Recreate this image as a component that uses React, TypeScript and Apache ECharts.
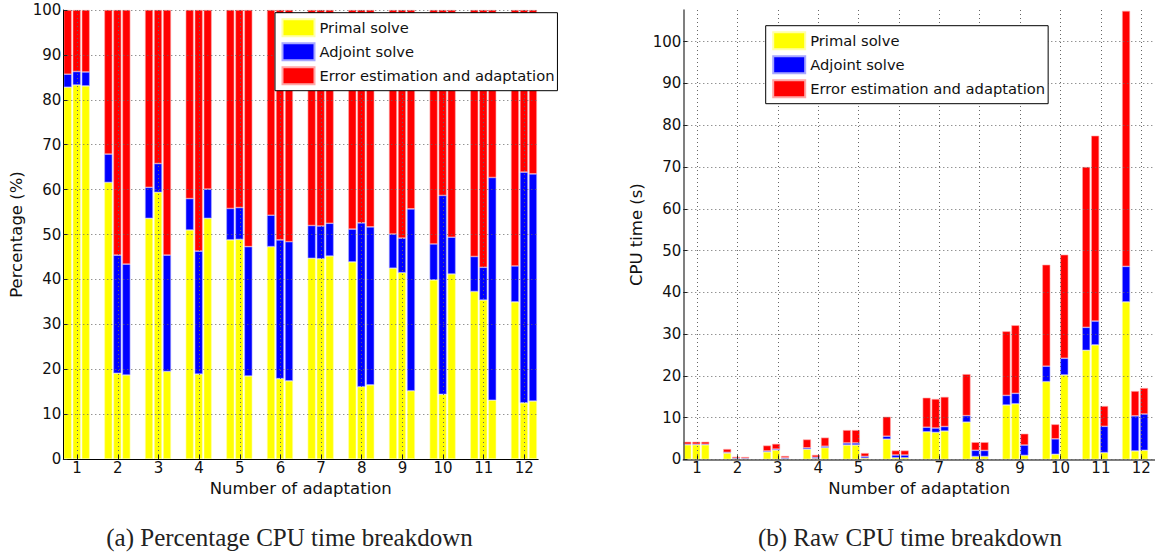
import React, { useEffect, useRef } from 'react';
import * as echarts from 'echarts';

// ---------- data ----------
const adaptations = ['1', '2', '3', '4', '5', '6', '7', '8', '9', '10', '11', '12'];
const xTickValues = [1, 2, 3, 4, 5, 6, 7, 8, 9, 10, 11, 12];
const yTicksPct = [0, 10, 20, 30, 40, 50, 60, 70, 80, 90, 100];
const yTicksSec = [0, 10, 20, 30, 40, 50, 60, 70, 80, 90, 100];
const legendNames = ['Primal solve', 'Adjoint solve', 'Error estimation and adaptation'];

// percentage breakdown, [adaptation][run 1..3]
const pctPrimal = [
  [82.8, 83.3, 83.1], [61.6, 19.1, 18.7], [53.6, 59.4, 19.5], [51.0, 18.9, 53.6],
  [48.8, 48.9, 18.5], [47.3, 17.9, 17.4], [44.7, 44.6, 45.2], [43.9, 16.1, 16.5],
  [42.5, 41.5, 15.2], [39.9, 14.4, 41.2], [37.3, 35.4, 13.1], [35.0, 12.5, 12.9],
];
const pctAdjoint = [
  [2.9, 3.0, 3.1], [6.3, 26.3, 24.7], [6.9, 6.4, 25.9], [7.0, 27.4, 6.5],
  [7.0, 7.1, 28.8], [7.0, 30.9, 31.0], [7.3, 7.3, 7.3], [7.3, 36.5, 35.2],
  [7.6, 7.7, 40.5], [8.0, 44.3, 8.2], [7.8, 7.3, 49.6], [8.0, 51.4, 50.6],
];
const pctError = [
  [14.3, 13.7, 13.8], [32.1, 54.6, 56.6], [39.5, 34.2, 54.6], [42.0, 53.7, 39.9],
  [44.2, 44.0, 52.7], [45.7, 51.2, 51.6], [48.0, 48.1, 47.5], [48.8, 47.4, 48.3],
  [49.9, 50.8, 44.3], [52.1, 41.3, 50.6], [54.9, 57.3, 37.3], [57.0, 36.1, 36.5],
];

// raw CPU time (s), [adaptation][run 1..3]
const secPrimal = [
  [3.48, 3.48, 3.48], [1.5, 0.11, 0.1], [1.77, 2.2, 0.16], [2.42, 0.2, 2.79],
  [3.42, 3.42, 0.28], [4.82, 0.38, 0.37], [6.6, 6.44, 6.76], [8.9, 0.66, 0.68],
  [13.0, 13.3, 0.93], [18.6, 1.2, 20.2], [26.1, 27.4, 1.6], [37.7, 2.0, 2.15],
];
const secAdjoint = [
  [0.12, 0.13, 0.13], [0.16, 0.16, 0.14], [0.23, 0.24, 0.2], [0.33, 0.29, 0.34],
  [0.49, 0.5, 0.43], [0.71, 0.65, 0.65], [1.08, 1.05, 1.09], [1.55, 1.5, 1.44],
  [2.3, 2.5, 2.48], [3.7, 3.7, 4.0], [5.5, 5.7, 6.3], [8.5, 8.4, 8.7],
];
const secError = [
  [0.6, 0.59, 0.59], [0.8, 0.33, 0.31], [1.3, 1.26, 0.44], [2.0, 0.56, 2.07],
  [3.09, 3.08, 0.79], [4.67, 1.07, 1.08], [7.07, 6.96, 7.1], [9.95, 1.94, 1.98],
  [15.35, 16.3, 2.72], [24.3, 3.48, 24.8], [38.4, 44.4, 4.86], [61.2, 5.95, 6.22],
];

// ---------- styling ----------
const fillColors = ['#ffff00', '#0000ff', '#ff0000'];
const edgeColors = ['#ffffa8', '#a8a8ff', '#ffa8a8'];
const FONT = '"DejaVu Sans", "Liberation Sans", Arial, sans-serif';
const SERIF = '"Liberation Serif", "DejaVu Serif", serif';

// bar grids (category bands centred on integer ticks) with hidden axes: indices 0,1
// visible axis grids (value axes 0.66..12.34): indices 2,3
function buildSeries(idx: number, parts: number[][][], prefix: string) {
  const out: any[] = [];
  for (let b = 0; b < 3; b++) {
    for (let s = 0; s < 3; s++) {
      out.push({
        type: 'bar',
        name: legendNames[s],
        xAxisIndex: idx,
        yAxisIndex: idx,
        stack: prefix + b,
        barWidth: 8,
        barGap: '12.5%',
        z: 2,
        itemStyle: { color: fillColors[s], borderColor: edgeColors[s], borderWidth: 0.6 },
        emphasis: { disabled: true },
        data: parts[s].map((row) => row[b]),
      });
    }
  }
  return out;
}

function hiddenCatX(idx: number) {
  return {
    type: 'category',
    gridIndex: idx,
    data: adaptations,
    show: false,
    axisLine: { show: false },
    axisTick: { show: false },
    axisLabel: { show: false },
    splitLine: { show: false },
  };
}

function hiddenValY(idx: number, max: number) {
  return {
    type: 'value',
    gridIndex: idx,
    min: 0,
    max,
    show: false,
    axisLine: { show: false },
    axisTick: { show: false },
    axisLabel: { show: false },
    splitLine: { show: false },
  };
}

function xAxisFor(idx: number, axisColor: string, axisWidth: number) {
  return {
    type: 'value',
    gridIndex: idx,
    min: 0.66,
    max: 12.34,
    splitNumber: 12,
    z: 3,
    name: 'Number of adaptation',
    nameLocation: 'middle',
    nameGap: 10,
    nameTextStyle: { fontFamily: FONT, fontSize: 16.5, color: '#111' },
    axisLine: { show: true, onZero: false, lineStyle: { color: axisColor, width: axisWidth } },
    axisTick: { show: true, inside: true, length: 4, customValues: xTickValues, lineStyle: { color: '#222' } },
    axisLabel: {
      customValues: xTickValues,
      margin: 1,
      fontFamily: FONT,
      fontSize: 15,
      color: '#111',
      formatter: (v: number) => String(Math.round(v)),
    },
    splitLine: { show: true, lineStyle: { color: '#666', type: [1, 3], width: 1 } },
  };
}

function yAxisFor(idx: number, name: string, max: number, ticks: number[], axisColor: string, axisWidth: number) {
  return {
    type: 'value',
    gridIndex: idx,
    min: 0,
    max,
    splitNumber: 11,
    z: 3,
    name,
    nameLocation: 'middle',
    nameGap: 38,
    nameTextStyle: { fontFamily: FONT, fontSize: 16.5, color: '#111' },
    axisLine: { show: true, lineStyle: { color: axisColor, width: axisWidth } },
    axisTick: { show: true, inside: true, length: 4, customValues: ticks, lineStyle: { color: '#222' } },
    axisLabel: {
      customValues: ticks,
      margin: 2,
      fontFamily: FONT,
      fontSize: 15,
      color: '#111',
    },
    splitLine: { show: true, lineStyle: { color: '#666', type: [1, 3], width: 1 } },
  };
}

function legendAt(left: number, top: number) {
  return {
    left,
    top,
    orient: 'vertical',
    icon: 'rect',
    itemWidth: 32,
    itemHeight: 17,
    itemGap: 5,
    padding: [5.5, 3, 5.5, 6.5],
    backgroundColor: '#ffffff',
    borderColor: '#000000',
    borderWidth: 1,
    borderRadius: 0,
    selectedMode: false,
    z: 6,
    data: legendNames,
    textStyle: { fontFamily: FONT, fontSize: 14.7, color: '#111', lineHeight: 17 },
  };
}

function caption(text: string, x: number) {
  return {
    type: 'text',
    x,
    y: 537,
    style: {
      text,
      fontFamily: SERIF,
      fontSize: 25,
      fill: '#222',
      align: 'center',
      verticalAlign: 'middle',
      textAlign: 'center',
      textVerticalAlign: 'middle',
    },
  };
}

export default function App() {
  const ref = useRef<HTMLDivElement>(null);

  useEffect(() => {
    if (!ref.current) return;
    const chart = echarts.init(ref.current, undefined, { renderer: 'svg' });
    chart.setOption({
      animation: false,
      backgroundColor: '#ffffff',
      grid: [
        { left: 56.37, top: 10, width: 487.9, height: 449, show: false },
        { left: 676.37, top: 10, width: 487.9, height: 449.3, show: false },
        { left: 63.3, top: 10, width: 474.9, height: 449, show: false },
        { left: 683.3, top: 10, width: 474.9, height: 449.3, show: false },
      ],
      xAxis: [hiddenCatX(0), hiddenCatX(1), xAxisFor(2, '#000', 1), xAxisFor(3, '#555', 1.5)],
      yAxis: [
        hiddenValY(0, 100),
        hiddenValY(1, 107.6),
        yAxisFor(2, 'Percentage (%)', 100, yTicksPct, '#000', 1),
        yAxisFor(3, 'CPU time (s)', 107.6, yTicksSec, '#555', 1.5),
      ],
      legend: [legendAt(275, 12.7), legendAt(765.7, 25.7)],
      series: [
        ...buildSeries(0, [pctPrimal, pctAdjoint, pctError], 'pct'),
        ...buildSeries(1, [secPrimal, secAdjoint, secError], 'sec'),
      ],
      graphic: [
        caption('(a) Percentage CPU time breakdown', 289.5),
        caption('(b) Raw CPU time breakdown', 910),
      ],
    });
    return () => chart.dispose();
  }, []);

  return (
    <div
      ref={ref}
      style={{ position: 'absolute', left: 0, top: 0, width: 1155, height: 556, background: '#fff' }}
    />
  );
}
